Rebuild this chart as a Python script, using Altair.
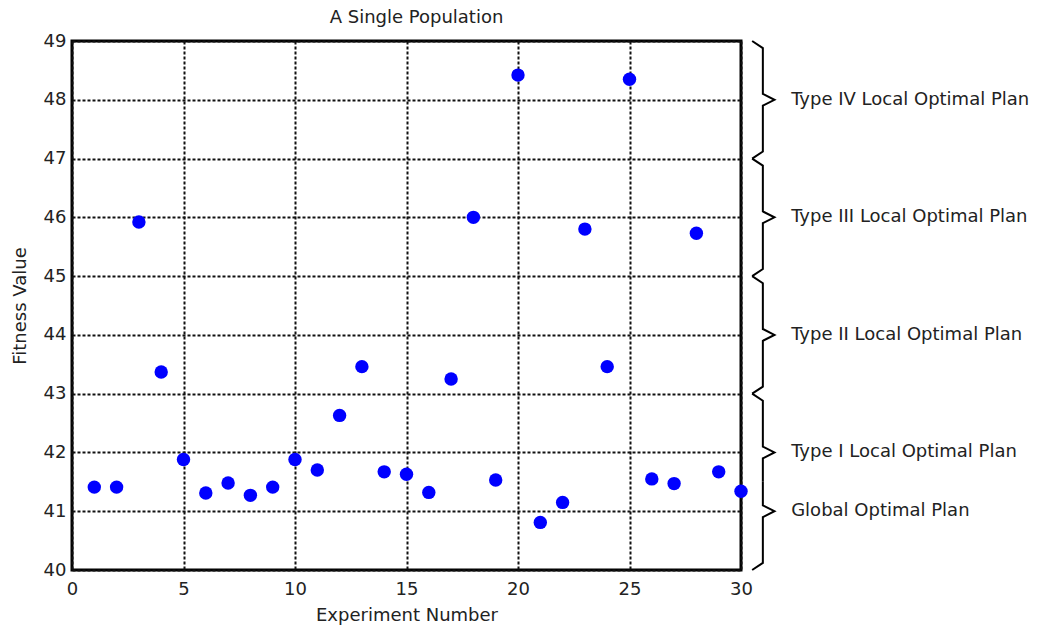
import altair as alt
import pandas as pd

# Fitness value reached in each of the 30 experiments
experiment = list(range(1, 31))
fitness = [
    41.41, 41.41, 45.92, 43.37, 41.88, 41.31, 41.48, 41.27, 41.41, 41.88,
    41.70, 42.63, 43.46, 41.67, 41.63, 41.32, 43.25, 46.00, 41.53, 48.42,
    40.81, 41.15, 45.80, 43.46, 48.35, 41.55, 41.47, 45.73, 41.67, 41.34,
]

# Bands of fitness values marked with braces on the right side
band_labels = [
    "Type IV Local Optimal Plan",
    "Type III Local Optimal Plan",
    "Type II Local Optimal Plan",
    "Type I Local Optimal Plan",
    "Global Optimal Plan",
]
band_top = [49, 47, 45, 43, 41.5]
band_tip = [48, 46, 44, 42, 41]
band_bottom = [47, 45, 43, 41.5, 40]
curl_top = [True, True, True, True, False]
curl_bottom = [True, True, True, False, True]

FONT = "DejaVu Sans"
TEXT = "#222222"
FS = 18

points = pd.DataFrame({"experiment": experiment, "fitness": fitness})

# brace outlines, built from the band limits
X_CURL, X_LINE, X_TIP = 30.5, 30.98, 31.5
rows = []
for i, name in enumerate(band_labels):
    path = []
    if curl_top[i]:
        path += [(X_CURL, band_top[i]), (X_LINE, band_top[i] - 0.12)]
    else:
        path += [(X_LINE, band_top[i])]
    path += [(X_LINE, band_tip[i] + 0.1), (X_TIP, band_tip[i]), (X_LINE, band_tip[i] - 0.1)]
    if curl_bottom[i]:
        path += [(X_LINE, band_bottom[i] + 0.12), (X_CURL, band_bottom[i])]
    else:
        path += [(X_LINE, band_bottom[i])]
    for k, (bx, by) in enumerate(path):
        rows.append({"band": name, "step": k, "bx": bx, "by": by})
braces = pd.DataFrame(rows)

labels = pd.DataFrame({"band": band_labels, "tip": band_tip, "lx": [32.25] * 5})

x_scale = alt.Scale(domain=[0, 30])
y_scale = alt.Scale(domain=[40, 49])

x_axis = alt.Axis(
    values=[0, 5, 10, 15, 20, 25, 30], title="Experiment Number", format="d",
    grid=True, gridColor="#111111", gridDash=[3, 2], gridWidth=2,
    ticks=False, domain=False, labelPadding=10, titlePadding=8, labelFlush=False,
)
y_axis = alt.Axis(
    values=list(range(40, 50)), title="Fitness Value", format="d",
    grid=True, gridColor="#111111", gridDash=[3, 2], gridWidth=2,
    ticks=False, domain=False, labelPadding=6, titlePadding=14, labelFlush=False,
)

dots = alt.Chart(points).mark_circle(size=180, color="#0000ff", opacity=1).encode(
    x=alt.X("experiment:Q", scale=x_scale, axis=x_axis),
    y=alt.Y("fitness:Q", scale=y_scale, axis=y_axis),
)

brace_lines = alt.Chart(braces).mark_line(color="black", strokeWidth=2).encode(
    x=alt.X("bx:Q", scale=x_scale),
    y=alt.Y("by:Q", scale=y_scale),
    detail="band:N",
    order="step:Q",
)

brace_text = alt.Chart(labels).mark_text(
    align="left", baseline="middle", font=FONT, fontSize=FS, color=TEXT
).encode(
    x=alt.X("lx:Q", scale=x_scale),
    y=alt.Y("tip:Q", scale=y_scale),
    text="band:N",
)

chart = (
    alt.layer(dots, brace_lines, brace_text)
    .properties(
        width=669,
        height=529,
        title=alt.TitleParams(
            "A Single Population", font=FONT, fontSize=FS, fontWeight="normal",
            color=TEXT, anchor="middle", offset=5, dx=10,
        ),
        autosize=alt.AutoSizeParams(type="none"),
        padding={"left": 72, "top": 41, "right": 320, "bottom": 60},
    )
    .configure_view(stroke="black", strokeWidth=3)
    .configure_axis(
        labelFont=FONT, labelFontSize=FS, labelColor=TEXT,
        titleFont=FONT, titleFontSize=FS, titleColor=TEXT, titleFontWeight="normal",
    )
)

chart.save("out.html", embed_options={"renderer": "svg", "actions": False})
